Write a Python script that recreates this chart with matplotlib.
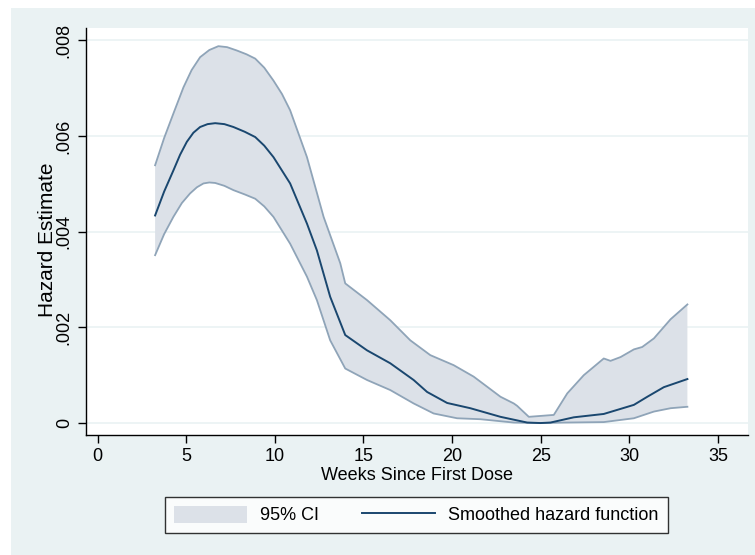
import matplotlib
matplotlib.use("Agg")
import matplotlib.pyplot as plt
import numpy as np
from matplotlib.patches import Rectangle, Patch
from matplotlib.lines import Line2D

plt.rcParams['font.family'] = ['Liberation Sans', 'DejaVu Sans']

# Upper 95% CI
upper_x = [3.24, 3.75, 4.27, 4.84, 5.30, 5.78, 6.30, 6.81, 7.30, 7.85, 8.40, 8.89, 9.40, 9.92,
           10.40, 10.86, 11.81, 12.75, 13.69, 13.97,
           15.20, 16.51, 17.64, 18.77, 20.09, 21.22, 22.73, 23.48, 23.67, 24.33, 25.74, 26.50,
           27.43, 28.56, 28.94, 29.51, 30.26, 30.73, 31.39, 32.33, 33.28]
upper_y = [0.00539, 0.00596, 0.00647, 0.00702, 0.00738, 0.00765, 0.00780, 0.00788, 0.00786,
           0.00779, 0.00771, 0.00762, 0.00743, 0.00716, 0.00688, 0.00654,
           0.00556, 0.00431, 0.00334, 0.00292, 0.00257, 0.00215, 0.00173, 0.00142, 0.00121,
           0.00097, 0.00055, 0.00041, 0.00036, 0.00013, 0.00017, 0.00062, 0.00100, 0.00135,
           0.00130, 0.00138, 0.00154, 0.00159, 0.00177, 0.00217, 0.00248]

# Smoothed hazard
haz_x = [3.24, 3.75, 4.27, 4.65, 5.03, 5.40, 5.78, 6.20, 6.63, 7.15, 7.66, 8.30, 8.89, 9.40,
         9.92, 10.86, 11.81, 12.37, 13.12, 13.97,
         15.20, 16.51, 17.83, 18.59, 19.72, 21.03, 22.73, 24.24, 24.99, 25.55, 26.87, 28.56,
         30.26, 31.02, 31.95, 33.28]
haz_y = [0.00434, 0.00484, 0.00528, 0.00561, 0.00588, 0.00607, 0.00619, 0.00625, 0.00627,
         0.00625, 0.00619, 0.00609, 0.00598, 0.00580,
         0.00556, 0.00501, 0.00417, 0.00361, 0.00264, 0.00184, 0.00152, 0.00125, 0.00090,
         0.00065, 0.00042, 0.00031, 0.00013, 0.00001, 0.00000, 0.00001, 0.00012, 0.00019,
         0.00038, 0.00055, 0.00075, 0.00092]

# Lower 95% CI
lower_x = [3.24, 3.75, 4.27, 4.75, 5.21, 5.60, 5.97, 6.30, 6.63, 7.15, 7.66, 8.30, 8.89, 9.40,
           9.92, 10.86, 11.81, 12.37, 13.12, 13.97,
           15.20, 16.51, 17.83, 18.96, 20.28, 21.60, 23.48, 24.99, 26.31, 28.56, 30.26, 31.39,
           32.33, 33.28]
lower_y = [0.00351, 0.00395, 0.00431, 0.00460, 0.00480, 0.00493, 0.00501, 0.00503, 0.00502,
           0.00496, 0.00487, 0.00478, 0.00469, 0.00453, 0.00431, 0.00375,
           0.00306, 0.00257, 0.00173, 0.00114, 0.00090, 0.00069, 0.00041, 0.00020, 0.00010,
           0.00008, 0.00001, 0.00000, 0.00001, 0.00002, 0.00010, 0.00024, 0.00031, 0.00034]

x_ticks = [0, 5, 10, 15, 20, 25, 30, 35]
y_ticks = [0, 0.002, 0.004, 0.006, 0.008]
y_tick_labels = ["0", ".002", ".004", ".006", ".008"]

W, H = 755, 555
fig = plt.figure(figsize=(W / 100, H / 100), dpi=100, facecolor='white')
bg = Rectangle((11 / W, 0), 1 - 11 / W, 1 - 8 / H, transform=fig.transFigure,
               facecolor='#eaf2f3', edgecolor='none', zorder=-10)
fig.patches.append(bg)

ax = fig.add_axes([86 / W, 1 - 435 / H, (748 - 86) / W, (435 - 28) / H])
ax.set_facecolor('white')

fill_c = '#dce1e8'
ci_line_c = '#8fa4b8'
haz_c = '#1a476f'

poly_x = np.concatenate([upper_x, lower_x[::-1]])
poly_y = np.concatenate([upper_y, lower_y[::-1]])
ax.fill(poly_x, poly_y, facecolor=fill_c, edgecolor='none', zorder=2)
ax.plot(upper_x, upper_y, color=ci_line_c, lw=1.3, zorder=3)
ax.plot(lower_x, lower_y, color=ci_line_c, lw=1.3, zorder=3)
ax.plot(haz_x, haz_y, color=haz_c, lw=1.4, zorder=4)

ax.set_xlim(-0.66, 36.7)
ax.set_ylim(-0.00025, 0.00826)
ax.set_xticks(x_ticks)
ax.set_yticks(y_ticks)
ax.set_yticklabels(y_tick_labels, rotation=90, va='center')
ax.tick_params(axis='both', direction='out', length=5.5, width=1, labelsize=13, pad=4, color='black')
ax.grid(axis='y', color='#eaf2f3', lw=1.2, zorder=1)
ax.set_axisbelow(True)
for s in ['top', 'right']:
    ax.spines[s].set_visible(False)
for s in ['left', 'bottom']:
    ax.spines[s].set_linewidth(1)
    ax.spines[s].set_color('black')

ax.set_xlabel("Weeks Since First Dose", fontsize=13, labelpad=1)
ax.set_ylabel("Hazard Estimate", fontsize=15)
ax.yaxis.set_label_coords(-0.044, 0.479)

handles = [Patch(facecolor=fill_c, edgecolor='none'),
           Line2D([0], [0], color=haz_c, lw=1.4)]
leg = fig.legend(handles, ["95% CI", "Smoothed hazard function"], ncol=2,
                 loc='center', bbox_to_anchor=(416.5 / W, 1 - 515 / H),
                 fontsize=13, frameon=True, fancybox=False, edgecolor='black',
                 handlelength=4.0, handleheight=1.1, handletextpad=0.75,
                 columnspacing=2.4, borderpad=0.5)
leg.get_frame().set_linewidth(1)
leg.get_frame().set_facecolor('white')

fig.savefig("out.png", dpi=100, facecolor='white')
